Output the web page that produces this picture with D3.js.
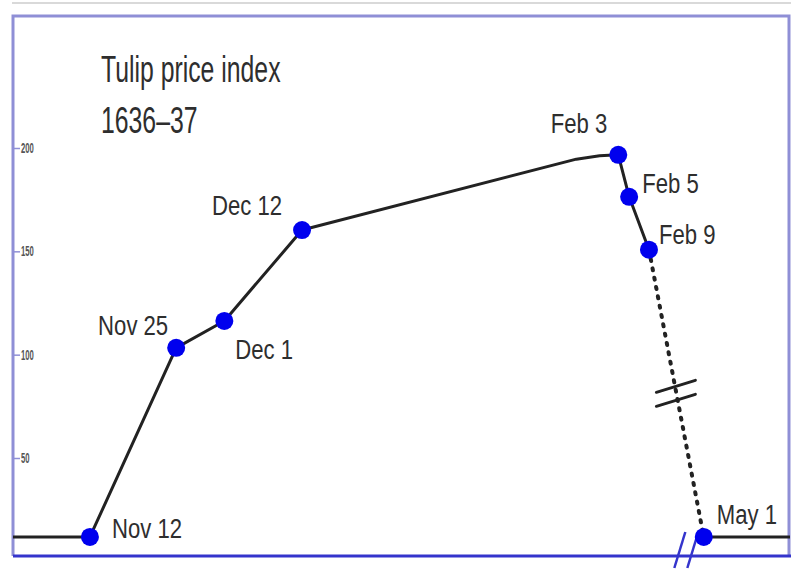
<!DOCTYPE html>
<html>
<head>
<meta charset="utf-8">
<script src="https://cdn.jsdelivr.net/npm/d3@7"></script>
<style>
  html, body { margin: 0; padding: 0; background: #ffffff; }
  svg { display: block; }
  text { font-family: "Liberation Sans", Arial, sans-serif; }
</style>
</head>
<body>
<svg id="chart" width="791" height="569"></svg>
<script>
// ---- data ----
// x position along the (non-uniform, broken) time axis, in chart units 0–100
const dateLabels = ["Nov 12", "Nov 25", "Dec 1", "Dec 12", "Feb 3", "Feb 5", "Feb 9", "May 1"];
const datePos    = [9.9, 21.0, 27.2, 37.2, 77.9, 79.3, 81.85, 88.9];
const indexVals  = [11.8, 103.3, 116.3, 160.3, 196.7, 176.4, 150.8, 11.8];
// unlabelled shape points of the drawn curve
const leftEdge   = { pos: 0,    value: 11.8 };
const bendPoints = [{ pos: 72.5, value: 194.6 }, { pos: 75.5, value: 196.3 }];
const rightEdge  = { pos: 100,  value: 11.8 };
const yTicks     = [50, 100, 150, 200];
const titleLines = ["Tulip price index", "1636–37"];

// ---- label placement (styling) ----
const labelStyle = {
  "Nov 12": { dx: 22,  dy: 1,   anchor: "start" },
  "Nov 25": { dx: -8,  dy: -13, anchor: "end" },
  "Dec 1":  { dx: 11,  dy: 38,  anchor: "start" },
  "Dec 12": { dx: -20, dy: -15, anchor: "end" },
  "Feb 3":  { dx: -11, dy: -22, anchor: "end" },
  "Feb 5":  { dx: 13,  dy: -4,  anchor: "start" },
  "Feb 9":  { dx: 10,  dy: -6,  anchor: "start" },
  "May 1":  { dx: 13,  dy: -13, anchor: "start" }
};

const svg = d3.select("#chart");
const frame = { left: 13, right: 789, top: 16, bottom: 556 };

const x = d3.scaleLinear().domain([0, 100]).range([frame.left, 790]);
const y = d3.scaleLinear().domain([50, 200]).range([458, 148]);

const points = dateLabels.map((d, i) => ({ label: d, pos: datePos[i], value: indexVals[i] }));

// faint top page line
svg.append("line").attr("x1", 12).attr("x2", 791).attr("y1", 3).attr("y2", 3)
  .attr("stroke", "#d9d9d9").attr("stroke-width", 2);

// frame
svg.append("path")
  .attr("d", `M${frame.left},${frame.bottom} V${frame.top} H${frame.right} V${frame.bottom}`)
  .attr("fill", "none").attr("stroke", "#8f8fd6").attr("stroke-width", 3);

// y axis ticks
const yAxis = d3.axisRight(y).tickValues(yTicks).tickSize(7).tickPadding(1).tickFormat(d3.format("d"));
const yg = svg.append("g").attr("transform", `translate(${frame.left},0)`).call(yAxis);
yg.select(".domain").remove();
yg.selectAll(".tick line").attr("stroke", "#8f8fd6").attr("stroke-width", 1.5);
yg.selectAll(".tick text")
  .attr("fill", "#555").attr("font-size", 14).attr("font-weight", "bold")
  .attr("font-family", "'Liberation Sans', Arial, sans-serif")
  .attr("transform", "translate(8,0) scale(0.55,1)")
  .attr("x", 0);

// bottom axis line
svg.append("line").attr("x1", frame.left).attr("x2", 791)
  .attr("y1", frame.bottom).attr("y2", frame.bottom)
  .attr("stroke", "#3434cc").attr("stroke-width", 3);

// axis break marks "//"
const brk = x(87.3);
[0, 13].forEach(o => {
  svg.append("line")
    .attr("x1", brk - 17 + o).attr("y1", 568)
    .attr("x2", brk - 6 + o).attr("y2", 532)
    .attr("stroke", "#3434cc").attr("stroke-width", 2.5);
});

// solid line: left edge -> Feb 9
const solidData = [leftEdge].concat(points.slice(0, 4), bendPoints, points.slice(4, 7));
const lineGen = d3.line().x(d => x(d.pos)).y(d => y(d.value));
svg.append("path")
  .attr("d", lineGen(solidData))
  .attr("fill", "none").attr("stroke", "#222").attr("stroke-width", 3)
  .attr("stroke-linejoin", "round");

// dotted crash segment Feb 9 -> May 1
const crash = [points[6], points[7]];
svg.append("path")
  .attr("d", lineGen(crash))
  .attr("fill", "none").attr("stroke", "#222").attr("stroke-width", 4)
  .attr("stroke-linecap", "round").attr("stroke-dasharray", "2,7.5");

// solid flat after May 1
svg.append("path")
  .attr("d", lineGen([points[7], rightEdge]))
  .attr("fill", "none").attr("stroke", "#222").attr("stroke-width", 3);

// break marks across the dotted segment
const p1 = points[6], p2 = points[7];
const bx = x(p1.pos) + (x(p2.pos) - x(p1.pos)) * 0.5;
const by = y(p1.value) + (y(p2.value) - y(p1.value)) * 0.5;
[-7, 7].forEach(o => {
  svg.append("line")
    .attr("x1", bx - 20).attr("y1", by + o + 6)
    .attr("x2", bx + 19).attr("y2", by + o - 6)
    .attr("stroke", "#222").attr("stroke-width", 3).attr("stroke-linecap", "round");
});

// dots
svg.append("g").selectAll("circle").data(points).join("circle")
  .attr("cx", d => x(d.pos)).attr("cy", d => y(d.value)).attr("r", 9)
  .attr("fill", "#0000ee");

// labels
svg.append("g").selectAll("text").data(points).join("text")
  .attr("text-anchor", d => labelStyle[d.label].anchor)
  .attr("transform", d => `translate(${x(d.pos) + labelStyle[d.label].dx},${y(d.value) + labelStyle[d.label].dy}) scale(0.79,1)`)
  .attr("font-size", 28).attr("fill", "#2e2e2e")
  .text(d => d.label);

// title
svg.append("g").selectAll("text").data(titleLines).join("text")
  .attr("transform", (d, i) => `translate(101,${82 + i * 51}) scale(0.67,1)`)
  .attr("font-size", 37).attr("fill", "#2e2e2e")
  .text(d => d);
</script>
</body>
</html>
